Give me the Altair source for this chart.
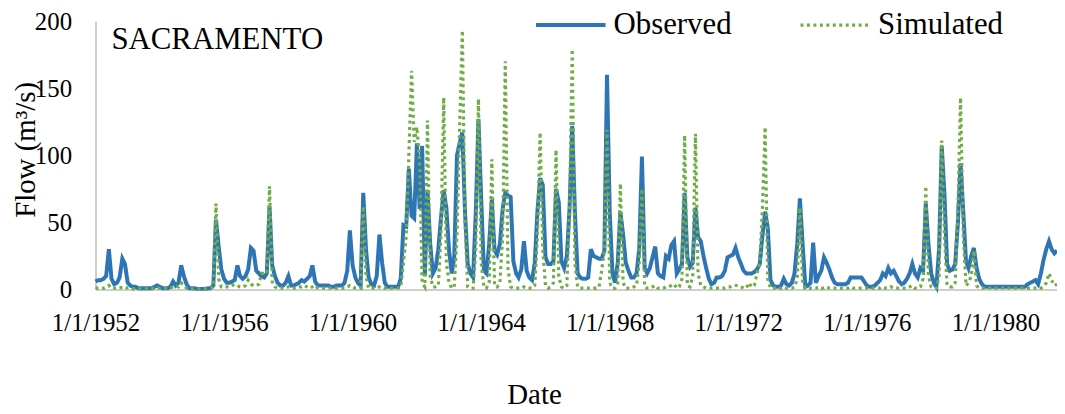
import altair as alt
import pandas as pd

# ---------------- data (monthly, Jan 1952 - Dec 1981) ----------------
start_month = "1952-01-01"

observed = [
    6, 7, 7, 8, 10, 30, 8, 4, 5, 9, 23, 19,            # 1952
    5, 3, 2, 2, 1, 1, 1, 1, 1, 1, 2, 3,                # 1953
    2, 1, 1, 1, 2, 6, 3, 5, 18, 10, 4, 1,              # 1954
    1, 1, 0.5, 0.5, 0.5, 0.5, 1, 1, 3, 52, 32, 15,     # 1955
    8, 5, 5, 6, 7, 18, 10, 8, 10, 15, 31, 29,          # 1956
    14, 12, 10, 9, 12, 62, 18, 10, 5, 3, 3, 5,         # 1957
    10, 3, 3, 4, 5, 7, 6, 8, 10, 18, 6, 3,             # 1958
    3, 3, 3, 3, 2, 2, 3, 3, 3, 5, 14, 44,              # 1959
    18, 9, 5, 3, 72, 30, 9, 4, 3, 10, 41, 20,          # 1960
    5, 2, 2, 2, 2, 2, 8, 48, 47, 90, 55, 53,           # 1961
    109, 60, 107, 10, 74, 34, 12, 16, 30, 53, 74, 61,  # 1962
    29, 12, 24, 100, 109, 117, 58, 19, 12, 9, 58, 127, # 1963
    68, 14, 12, 34, 67, 29, 26, 34, 60, 72, 70, 69,    # 1964
    21, 12, 9, 15, 36, 14, 9, 7, 20, 58, 83, 78,       # 1965
    24, 19, 19, 21, 75, 65, 21, 16, 25, 60, 122, 58,   # 1966
    12, 9, 8, 8, 9, 30, 25, 24, 23, 23, 29, 160,       # 1967
    58, 12, 5, 20, 58, 41, 20, 14, 9, 9, 12, 30,       # 1968
    99, 16, 12, 16, 24, 32, 12, 10, 9, 25, 23, 33,     # 1969
    36, 12, 15, 19, 72, 24, 17, 20, 61, 39, 36, 25,    # 1970
    16, 8, 4, 5, 9, 9, 10, 14, 24, 25, 26, 31,         # 1971
    24, 19, 14, 12, 12, 12, 13, 15, 19, 40, 58, 46,    # 1972
    7, 3, 2, 2, 3, 8, 4, 3, 5, 12, 34, 68,             # 1973
    34, 2, 3, 5, 35, 5, 10, 14, 24, 20, 15, 9,         # 1974
    5, 4, 4, 4, 4, 5, 9, 9, 9, 9, 9, 6,                # 1975
    3, 2, 2, 3, 5, 7, 12, 10, 16, 12, 14, 10,          # 1976
    6, 4, 5, 8, 12, 19, 12, 9, 16, 14, 64, 34,         # 1977
    12, 5, 2, 30, 107, 71, 19, 14, 15, 19, 50, 94,     # 1978
    58, 21, 16, 25, 31, 16, 8, 4, 2, 2, 2, 2,          # 1979
    2, 2, 2, 2, 2, 2, 2, 2, 2, 2, 2, 2,                # 1980
    4, 5, 6, 7, 4, 12, 22, 30, 36, 30, 27, 29,         # 1981
]

simulated = [
    1, 1, 1, 1, 2, 3, 1, 1, 1, 1, 2, 2,                # 1952
    1, 1, 0.5, 0.5, 0.5, 0.5, 0.5, 0.5, 0.5, 0.5, 1, 1,  # 1953
    1, 1, 1, 1, 1, 2, 3, 2, 5, 3, 1, 1,                # 1954
    0.5, 0.5, 0.5, 0.5, 0.5, 0.5, 0.5, 1, 2, 64, 8, 2, # 1955
    2, 2, 2, 3, 4, 3, 2, 2, 3, 7, 4, 3,                # 1956
    3, 4, 12, 12, 12, 77, 6, 2, 1, 1, 1, 1,            # 1957
    2, 1, 1, 1, 2, 2, 3, 2, 1, 2, 3, 1,                # 1958
    1, 1, 1, 1, 1, 1, 1, 1, 1, 1, 2, 3,                # 1959
    2, 1, 1, 1, 62, 10, 1, 1, 1, 1, 2, 2,              # 1960
    1, 1, 1, 1, 1, 1, 2, 20, 40, 100, 163, 110,        # 1961
    121, 95, 5, 2, 126, 10, 2, 2, 3, 40, 143, 20,      # 1962
    5, 1, 2, 40, 120, 193, 50, 2, 1, 1, 30, 142,       # 1963
    20, 2, 1, 5, 97, 3, 2, 5, 40, 170, 15, 2,          # 1964
    1, 1, 1, 1, 2, 1, 1, 1, 3, 40, 117, 30,            # 1965
    3, 1, 2, 5, 104, 10, 2, 1, 3, 60, 179, 20,         # 1966
    2, 1, 1, 1, 1, 1, 1, 1, 2, 14, 30, 119,            # 1967
    5, 1, 1, 5, 79, 5, 1, 1, 1, 2, 3, 20,              # 1968
    75, 2, 1, 1, 2, 3, 1, 1, 1, 2, 2, 3,               # 1969
    4, 1, 2, 8, 115, 3, 2, 10, 116, 12, 3, 2,          # 1970
    1, 1, 1, 1, 1, 1, 1, 1, 2, 2, 3, 3,                # 1971
    3, 2, 1, 1, 5, 2, 3, 12, 20, 60, 121, 8,           # 1972
    1, 1, 1, 0.5, 1, 2, 1, 1, 1, 2, 8, 61,             # 1973
    5, 1, 0.5, 1, 1, 1, 2, 1, 1, 2, 1, 1,              # 1974
    1, 1, 1, 1, 1, 1, 2, 1, 1, 1, 1, 1,                # 1975
    1, 1, 1, 1, 1, 1, 2, 1, 1, 2, 1, 1,                # 1976
    1, 1, 1, 1, 2, 3, 1, 1, 2, 8, 77, 10,              # 1977
    2, 1, 1, 10, 111, 40, 3, 2, 2, 5, 60, 143,         # 1978
    40, 3, 5, 10, 29, 3, 1, 1, 1, 1, 1, 1,             # 1979
    1, 1, 1, 1, 1, 1, 1, 1, 1, 1, 1, 1,                # 1980
    1, 1, 1, 1, 1, 1, 2, 5, 12, 7, 3, 4,               # 1981
]

series_names = ["Observed", "Simulated"]
series_colors = ["#2E75B6", "#70AD47"]
tick_years = [1952, 1956, 1960, 1964, 1968, 1972, 1976, 1980]
y_ticks = [0, 50, 100, 150, 200]
panel_label = ["SACRAMENTO"]

# ---------------- table ----------------
n = len(observed)
dates = list(pd.date_range(start_month, periods=n, freq="MS").strftime("%Y/%m/%d"))
df = pd.DataFrame({
    "date": dates + dates,
    "flow": observed + simulated,
    "series": [series_names[0]] * n + [series_names[1]] * n,
})

FONT = "Liberation Serif"

legend = alt.Legend(
    orient="none", legendX=441, legendY=-33, direction="horizontal",
    title=None, symbolType="stroke", symbolSize=4900, symbolStrokeWidth=4,
    labelFont=FONT, labelFontSize=31, labelColor="black", labelOffset=6,
    columnPadding=62, padding=0, labelLimit=300,
)

lines = alt.Chart(df).mark_line(strokeCap="butt").encode(
    x=alt.X(
        "date:T", title="Date",
        scale=alt.Scale(domain=[alt.DateTime(year=1952, month=1, date=1),
                                alt.DateTime(year=1981, month=12, date=1)], nice=False),
        axis=alt.Axis(
            values=[alt.DateTime(year=y, month=1, date=1) for y in tick_years],
            format="%-m/%-d/%Y", labelFlush=False, labelOverlap=False,
            labelPadding=21, titleX=441, titleY=115, titleBaseline="alphabetic",
            titleAlign="center",
        ),
    ),
    y=alt.Y(
        "flow:Q", title="Flow (m³/s)",
        scale=alt.Scale(domain=[0, 200], nice=False),
        axis=alt.Axis(
            values=y_ticks, labelPadding=24, titleAngle=270, titleX=-61,
            titleY=129, titleBaseline="alphabetic", titleAlign="center",
        ),
    ),
    color=alt.Color("series:N", scale=alt.Scale(domain=series_names, range=series_colors),
                    legend=legend),
    strokeDash=alt.StrokeDash("series:N",
                              scale=alt.Scale(domain=series_names, range=[[1, 0], [3, 3.5]]),
                              legend=legend),
    strokeWidth=alt.StrokeWidth("series:N",
                                scale=alt.Scale(domain=series_names, range=[4, 3.2]),
                                legend=None),
)

label = alt.Chart(pd.DataFrame({"name": panel_label})).mark_text(
    font=FONT, fontSize=31, align="left", baseline="alphabetic", color="black"
).encode(x=alt.value(16), y=alt.value(28), text="name:N")

chart = alt.layer(lines, label).properties(
    width=967, height=270, autosize="none",
    padding={"left": 88, "top": 12, "right": 0, "bottom": 123},
).configure_view(stroke=None).configure_axis(
    grid=False, ticks=False, tickSize=0,
    domainColor="#BFBFBF", domainWidth=1.5,
    labelFont=FONT, labelFontSize=25, labelColor="black",
    titleFont=FONT, titleFontSize=29, titleFontWeight="normal", titleColor="black",
)

chart.save("out.html", embed_options={"renderer": "svg", "actions": False})
